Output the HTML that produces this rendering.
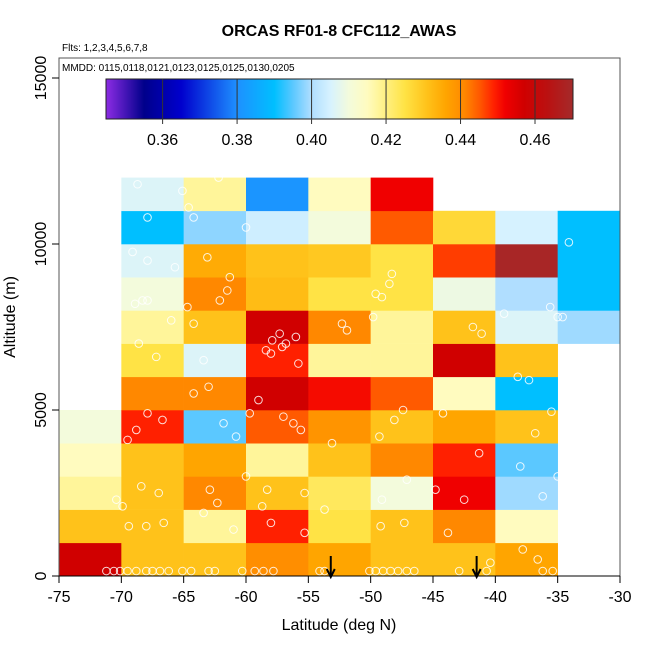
<!DOCTYPE html>
<html><head><meta charset="utf-8"><style>
body{margin:0;background:#fff}
svg{display:block;font-family:"Liberation Sans",Arial,sans-serif}
</style></head><body>
<svg id="chart" width="650" height="650">
<text x="339" y="36" text-anchor="middle" font-size="16" font-weight="bold">ORCAS RF01-8 CFC112_AWAS</text>
<text x="62" y="51" font-size="10">Flts: 1,2,3,4,5,6,7,8</text>
<g id="cells"></g>
<g id="pts"></g>
<rect x="59" y="58" width="561" height="518" fill="none" stroke="#555" stroke-width="1"/>
<text x="62" y="71" font-size="10">MMDD: 0115,0118,0121,0123,0125,0125,0130,0205</text>
<g id="cbar"></g>
<g id="axes"></g>
<text x="339" y="630" text-anchor="middle" font-size="16">Latitude (deg N)</text>
<text transform="translate(15,317) rotate(-90)" text-anchor="middle" font-size="16">Altitude (m)</text>
</svg>
<script>
const latBins=[-75,-70,-65,-60,-55,-50,-45,-40,-35];
const altBins=[0,1000,2000,3000,4000,5000,6000,7000,8000,9000,10000,11000];
// rows: altitude bin 0..11, cols: lat bin; null = no data
const cellValues=[
[0.457,0.431,0.431,0.440,0.436,0.431,0.431,0.436,null],
[0.431,0.431,0.418,0.449,0.425,0.431,0.441,0.415,null],
[0.418,0.431,0.441,0.431,0.423,0.410,0.452,0.399,null],
[0.415,0.431,0.436,0.418,0.431,0.441,0.449,0.395,null],
[0.410,0.449,0.395,0.445,0.439,0.431,0.436,0.431,null],
[null,0.441,0.441,0.457,0.451,0.445,0.415,0.390,null],
[null,0.425,0.406,0.449,0.418,0.418,0.457,0.431,null],
[null,0.418,0.431,0.457,0.441,0.418,0.431,0.406,0.399],
[null,0.410,0.441,0.432,0.425,0.425,0.409,0.400,0.390],
[null,0.406,0.435,0.431,0.430,0.425,0.447,0.469,0.390],
[null,0.390,0.398,0.404,0.410,0.445,0.427,0.405,0.390],
[null,0.406,0.418,0.381,0.415,0.452,null,null,null]
];
const ptLat=[-68.7,-67.9,-69.1,-67.9,-65.7,-65.1,-64.6,-64.2,-62.2,-60.0,-63.1,-61.3,-61.5,-62.1,-64.7,-68.9,-68.3,-67.9,-66.0,-68.6,-67.2,-64.2,-63.4,-57.3,-57.9,-56.8,-56.0,-58.4,-58.0,-57.1,-55.8,-52.3,-51.9,-49.6,-48.5,-48.3,-49.1,-49.8,-41.8,-41.1,-39.3,-38.2,-34.1,-35.6,-35.0,-34.6,-37.3,-36.8,
-69.5,-68.8,-66.7,-67.9,-64.2,-63.0,-61.8,-60.8,-57.0,-56.2,-55.6,-59.7,-59.0,-53.1,-49.3,-48.1,-47.4,-44.2,-41.3,-38.0,-35.5,-70.4,-69.9,-68.4,-67.0,-62.9,-62.3,-60.0,-58.3,-58.7,-55.3,-53.7,-49.1,-47.1,-44.8,-42.5,-36.2,-35.0,
-71.2,-70.6,-70.1,-69.5,-68.8,-68.0,-67.5,-66.9,-66.2,-65.1,-64.4,-63.0,-62.5,-60.3,-59.3,-58.6,-57.8,-54.1,-53.7,-50.1,-49.6,-49.0,-48.4,-47.8,-47.1,-46.5,-42.9,-40.7,-36.2,-35.4,-69.4,-68.0,-66.6,-63.4,-61.0,-58.0,-55.3,-49.2,-47.3,-43.8,-40.4,-37.8,-36.6];
const ptAlt=[11800,10800,9760,9500,9300,11600,11100,10800,12000,10500,9600,9000,8600,8300,8100,8200,8300,8300,7700,7000,6600,7600,6500,7300,7100,7000,7200,6800,6700,6900,6400,7600,7400,8500,8800,9100,8400,7800,7500,7300,7900,6000,10050,8100,7800,7800,5900,4300,
4100,4400,4700,4900,5500,5700,4600,4200,4800,4600,4400,4900,5300,4000,4200,4700,5000,4900,3700,3300,4950,2300,2100,2700,2500,2600,2200,3000,2600,2100,2500,2000,2300,2900,2600,2300,2400,3000,
150,150,150,150,150,150,150,150,150,150,150,150,150,150,150,150,150,150,150,150,150,150,150,150,150,150,150,150,150,150,1500,1500,1600,1900,1400,1600,1300,1500,1600,1300,400,800,500];
const cbTicks=[0.36,0.38,0.40,0.42,0.44,0.46];
const xTicks=[-75,-70,-65,-60,-55,-50,-45,-40,-35,-30];
const yTicks=[0,5000,10000,15000];
const arrowLats=[-53.2,-41.5];

const NS='http://www.w3.org/2000/svg';
const X=l=>59+(l+75)*561/45;
const Y=a=>576-a*498/15000;
const stops=[[0.345,'#8A2BE2'],[0.355,'#00008B'],[0.365,'#0000CD'],[0.38,'#1E90FF'],[0.39,'#00BFFF'],[0.395,'#5BC8FF'],[0.40,'#B0DEFF'],[0.405,'#D6F2FF'],[0.41,'#F3FBDC'],[0.415,'#FFFBBF'],[0.418,'#FFF59A'],[0.425,'#FFE345'],[0.431,'#FFC21A'],[0.436,'#FFA500'],[0.441,'#FF8800'],[0.445,'#FF5A00'],[0.449,'#FF2000'],[0.452,'#F00000'],[0.457,'#D00000'],[0.463,'#BB1010'],[0.47,'#A52A2A']];
function hx(c){return [1,3,5].map(i=>parseInt(c.substr(i,2),16));}
function cmap(v){
  if(v<=stops[0][0])return stops[0][1];
  for(let i=1;i<stops.length;i++){if(v<=stops[i][0]){const a=hx(stops[i-1][1]),b=hx(stops[i][1]),t=(v-stops[i-1][0])/(stops[i][0]-stops[i-1][0]);return 'rgb('+a.map((x,k)=>Math.round(x+(b[k]-x)*t)).join(',')+')';}}
  return stops[stops.length-1][1];
}
function mk(tag,attrs,parent){const e=document.createElementNS(NS,tag);for(const k in attrs)e.setAttribute(k,attrs[k]);parent.appendChild(e);return e;}
const cells=document.getElementById('cells');
cellValues.forEach((row,r)=>row.forEach((v,c)=>{
  if(v===null)return;
  const x0=X(latBins[c]),x1=X(latBins[c]+5),y0=Y(altBins[r]+1000),y1=Y(altBins[r]);
  const e=mk('rect',{x:x0,y:y0,width:x1-x0+0.3,height:y1-y0+0.3,fill:cmap(v)},cells);
  
  
}));
const pts=document.getElementById('pts');
ptLat.forEach((l,i)=>{
  const e=mk('circle',{cx:X(l),cy:Y(ptAlt[i]),r:3.8,fill:'none',stroke:'#fff','stroke-opacity':0.85,'stroke-width':1},pts);
  
  
});
// colorbar
const cb=document.getElementById('cbar');
const cbX0=106,cbX1=573,cbV0=0.3448,cbV1=0.4702;
const CX=v=>cbX0+(v-cbV0)*(cbX1-cbX0)/(cbV1-cbV0);
for(let px=cbX0;px<cbX1;px+=1){
  const v=cbV0+(px+0.5-cbX0)*(cbV1-cbV0)/(cbX1-cbX0);
  mk('rect',{x:px,y:79,width:1.2,height:40,fill:cmap(v)},cb);
}
mk('rect',{x:cbX0,y:79,width:cbX1-cbX0,height:40,fill:'none',stroke:'#222','stroke-width':1},cb);
cbTicks.forEach(t=>{
  const x=CX(t);
  mk('line',{x1:x,x2:x,y1:79,y2:124,stroke:'#333','stroke-width':1},cb);
  const tx=mk('text',{x:x,y:145,'text-anchor':'middle','font-size':16},cb);
  tx.textContent=t.toFixed(2);
  
  
});
// axes
const ax=document.getElementById('axes');
mk('line',{x1:59,x2:620,y1:576,y2:576,stroke:'#000'},ax);
xTicks.forEach(t=>{
  mk('line',{x1:X(t),x2:X(t),y1:576,y2:583,stroke:'#000'},ax);
  const tx=mk('text',{x:X(t),y:602,'text-anchor':'middle','font-size':16},ax);
  tx.textContent=t;
  
  
});
yTicks.forEach(t=>{
  mk('line',{x1:52,x2:59,y1:Y(t),y2:Y(t),stroke:'#000'},ax);
  const tx=mk('text',{x:0,y:0,'text-anchor':'middle','font-size':16,transform:'translate(46,'+Y(t)+') rotate(-90)'},ax);
  tx.textContent=t;
  
  
});
arrowLats.forEach(l=>{
  const x=X(l);
  const g=mk('g',{},ax);
  
  
  mk('line',{x1:x,x2:x,y1:556,y2:577,stroke:'#000','stroke-width':2},g);
  mk('polyline',{points:(x-4)+',569 '+x+',577 '+(x+4)+',569',fill:'none',stroke:'#000','stroke-width':2},g);
});
</script>
</body></html>
